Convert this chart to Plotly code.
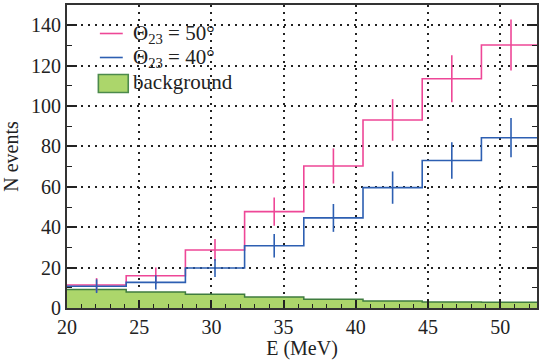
import plotly.graph_objects as go

# ---- data ----
bin_edges = [20.0, 24.1, 28.2, 32.3, 36.4, 40.5, 44.6, 48.7, 52.8]
n_theta50 = [11.4, 16.0, 28.7, 47.7, 70.3, 93.1, 113.5, 130.2]
err_theta50 = [3.4, 4.1, 5.4, 7.0, 8.7, 10.3, 11.6, 12.6]
n_theta40 = [10.8, 12.7, 19.8, 30.8, 44.6, 59.6, 73.0, 84.3]
err_theta40 = [3.4, 3.5, 4.5, 5.8, 6.9, 8.0, 9.0, 9.7]
n_background = [9.2, 7.9, 6.8, 5.4, 4.3, 3.5, 3.0, 2.8]

x_ticks = [20, 25, 30, 35, 40, 45, 50]
y_ticks = [0, 20, 40, 60, 80, 100, 120, 140]

PINK = "#ee4797"
BLUE = "#2d5fb2"
GREEN_FILL = "#acd66b"
GREEN_EDGE = "#3f7c3f"
FONT = "Liberation Serif, Times New Roman, serif"
TXT = "#222222"

centers = [(a + b) / 2 for a, b in zip(bin_edges[:-1], bin_edges[1:])]

def step_y(vals):
    return list(vals) + [vals[-1]]

fig = go.Figure()

fig.add_trace(go.Scatter(
    x=bin_edges, y=step_y(n_background), mode="lines", line_shape="hv",
    fill="tozeroy", fillcolor=GREEN_FILL,
    line=dict(color=GREEN_EDGE, width=1.5), showlegend=False, hoverinfo="skip"))

for vals, errs, col in [(n_theta50, err_theta50, PINK), (n_theta40, err_theta40, BLUE)]:
    fig.add_trace(go.Scatter(
        x=bin_edges, y=step_y(vals), mode="lines", line_shape="hv",
        line=dict(color=col, width=1.6), showlegend=False, hoverinfo="skip"))
    fig.add_trace(go.Scatter(
        x=centers, y=vals, mode="markers", marker=dict(size=1, opacity=0, color=col),
        error_y=dict(type="data", array=errs, visible=True, color=col, thickness=1.6, width=0),
        showlegend=False, hoverinfo="skip"))

# ---- manual legend (paper coordinates) ----
L, B, W, H = 67, 52, 472, 303
def px(xp): return (xp - L) / W
def py(yp): return (360 - B - yp) / H

shapes = [
    dict(type="line", xref="paper", yref="paper", x0=px(100), x1=px(123), y0=py(33.5), y1=py(33.5),
         line=dict(color=PINK, width=1.6)),
    dict(type="line", xref="paper", yref="paper", x0=px(100), x1=px(123), y0=py(57.5), y1=py(57.5),
         line=dict(color=BLUE, width=1.6)),
    dict(type="rect", xref="paper", yref="paper", x0=px(98.5), x1=px(128.5), y0=py(74.5), y1=py(92.5),
         fillcolor=GREEN_FILL, line=dict(color="#4c8a4c", width=1.6)),
]
lfont = dict(family=FONT, size=21, color=TXT)
annotations = [
    dict(xref="paper", yref="paper", x=px(131), y=py(34), xanchor="left", yanchor="middle",
         text="Θ<sub>23</sub> = 50°", showarrow=False, font=lfont),
    dict(xref="paper", yref="paper", x=px(131), y=py(58), xanchor="left", yanchor="middle",
         text="Θ<sub>23</sub> = 40°", showarrow=False, font=lfont),
    dict(xref="paper", yref="paper", x=px(131), y=py(82), xanchor="left", yanchor="middle",
         text="background", showarrow=False, font=lfont),
]

grid = dict(showgrid=True, gridcolor="#222222", gridwidth=1.5, griddash="2px,5px")
tfont = dict(family=FONT, size=20, color=TXT)

fig.update_layout(
    width=539, height=360,
    margin=dict(l=L, r=0, t=5, b=B),
    plot_bgcolor="white", paper_bgcolor="white",
    font=dict(family=FONT, size=20, color=TXT),
    shapes=shapes, annotations=annotations,
    xaxis=dict(range=[20, 52.55], tickmode="array", tickvals=x_ticks,
               ticks="inside", ticklen=8, tickwidth=1.5, tickcolor=TXT,
               minor=dict(dtick=1, ticks="inside", ticklen=4, tickwidth=1.2, tickcolor=TXT, showgrid=False),
               showline=True, linecolor="#333", linewidth=2, mirror=True,
               zeroline=False, title=dict(text="E (MeV)", standoff=2, font=tfont),
               tickfont=tfont, **grid),
    yaxis=dict(range=[0, 150], tickmode="array", tickvals=y_ticks,
               ticks="inside", ticklen=10, tickwidth=1.5, tickcolor=TXT,
               minor=dict(dtick=10, ticks="inside", ticklen=5, tickwidth=1.2, tickcolor=TXT, showgrid=False),
               showline=True, linecolor="#333", linewidth=2, mirror="ticks",
               zeroline=False, title=dict(text="N events", standoff=8, font=tfont),
               tickfont=tfont, **grid),
)

fig.write_html("out.html", config={"displayModeBar": False},
               post_script="document.body.style.margin='0';document.body.style.overflow='hidden';")
